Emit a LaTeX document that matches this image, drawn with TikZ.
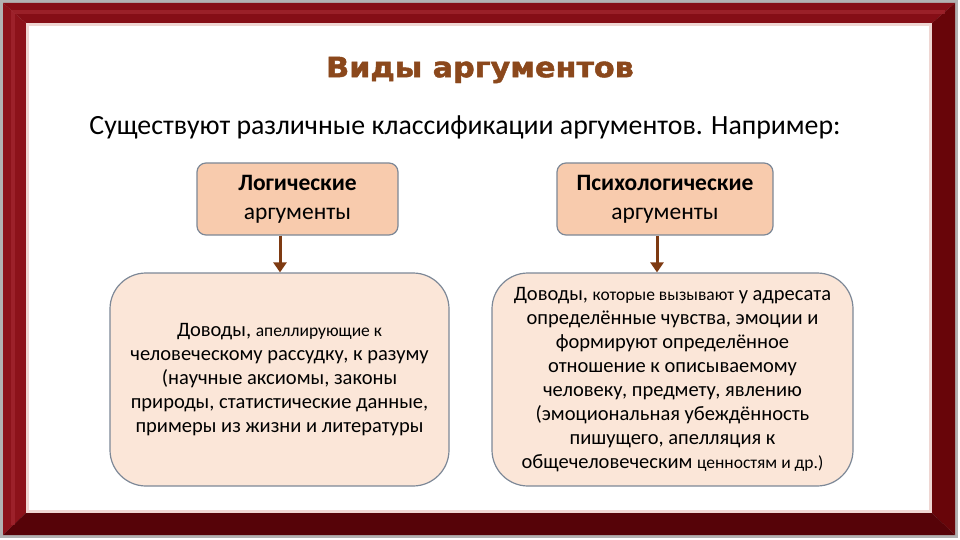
\documentclass[tikz,border=0pt]{standalone}
\usepackage{fontspec}
\setmainfont{Carlito}
\newfontfamily\titlefont[FakeBold=1.6]{DejaVu Sans Bold}
\usetikzlibrary{arrows.meta}
\definecolor{frametop}{HTML}{850E16}
\definecolor{frameleft}{HTML}{8C121A}
\definecolor{frameright}{HTML}{680509}
\definecolor{framebottom}{HTML}{560308}
\definecolor{framehigh}{HTML}{A32831}
\definecolor{innerpink}{HTML}{EFD6D2}
\definecolor{titlebrown}{HTML}{8B481C}
\definecolor{headfill}{HTML}{F8CBAD}
\definecolor{bodyfill}{HTML}{FBE6D8}
\definecolor{boxline}{HTML}{7D8897}
\definecolor{arrowbrown}{HTML}{7E3A12}
\tikzset{
  headbox/.style={draw=boxline, line width=1.2pt, fill=headfill, rounded corners=9pt,
    align=center, inner sep=0pt, font=\fontsize{23.5}{29}\selectfont},
  bodybox/.style={draw=boxline, line width=1.2pt, fill=bodyfill, rounded corners=36pt,
    align=center, inner sep=0pt, font=\fontsize{20.5}{24}\selectfont},
  downarrow/.style={draw=arrowbrown, line width=3pt, -{Triangle[length=10pt,width=13pt]}},
}
\newcommand{\smtx}[1]{{\fontsize{17.5}{24}\selectfont #1}}
\begin{document}
\begin{tikzpicture}[x=1pt,y=-1pt]
% frame
\useasboundingbox (0,0) rectangle (960,540);
\fill[gray!60] (0,0) rectangle (958,538);
\fill[frametop] (3,3) -- (955,3) -- (931,24) -- (27,24) -- cycle;
\fill[frameleft] (3,3) -- (27,24) -- (27,512) -- (3,535) -- cycle;
\fill[frameright] (955,3) -- (955,535) -- (931,512) -- (931,24) -- cycle;
\fill[framebottom] (3,535) -- (955,535) -- (931,512) -- (27,512) -- cycle;
\draw[framehigh, line width=4pt, opacity=0.7] (13,525) -- (13,12) -- (945,12);
\fill[innerpink] (26,23) rectangle (932,513);
\fill[white] (29,26) rectangle (929,510);
% title and subtitle
\node (title) at (480,70) {\titlefont\fontsize{28}{30}\selectfont\color{titlebrown}\scalebox{1.08}[1]{Виды аргументов}};
\node (sub) at (465,127) {\fontsize{27.8}{32}\selectfont Существуют различные классификации аргументов. Например:};
% boxes
\node[headbox, minimum width=201pt, minimum height=72pt] (L1) at (297.5,199)
  {\textbf{Логические}\\аргументы};
\node[headbox, minimum width=216pt, minimum height=72pt] (R1) at (665,199)
  {\textbf{Психологические}\\аргументы};
\node[bodybox, minimum width=339pt, minimum height=213pt] (L2) at (279.5,379.5)
  {Доводы, \smtx{апеллирующие к}\\
   человеческому рассудку, к разуму\\
   (научные аксиомы, законы\\
   природы, статистические данные,\\
   примеры из жизни и литературы};
\node[bodybox, minimum width=361pt, minimum height=213pt] (R2) at (672.5,379.5)
  {Доводы, \smtx{которые вызывают} у адресата\\
   определённые чувства, эмоции и\\
   формируют определённое\\
   отношение к описываемому\\
   человеку, предмету, явлению\\
   (эмоциональная убеждённость\\
   пишущего, апелляция к\\
   общечеловеческим \smtx{ценностям и др.)}};
% arrows
\draw[downarrow] (L1.south -| 280,0) -- (L2.north -| 280,0);
\draw[downarrow] (R1.south -| 657,0) -- (R2.north -| 657,0);
\end{tikzpicture}
\end{document}
